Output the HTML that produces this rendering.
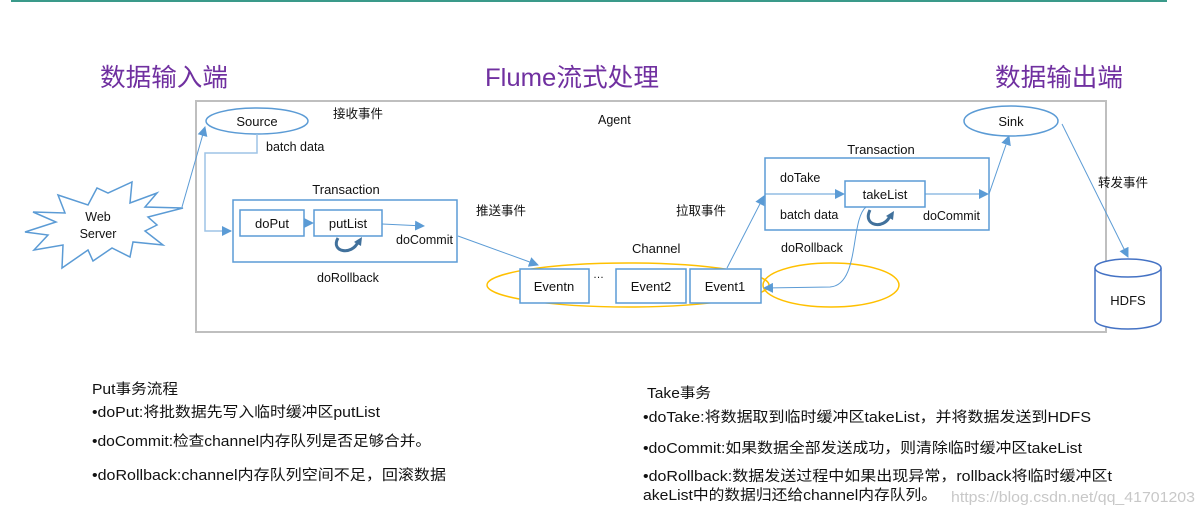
<!DOCTYPE html>
<html><head><meta charset="utf-8"><style>
html,body{margin:0;padding:0;background:#fff;}
svg{display:block}
text{font-family:"Liberation Sans","Noto Sans CJK SC",sans-serif;fill:#111;}
</style></head><body>
<svg width="1204" height="516" viewBox="0 0 1204 516" xmlns="http://www.w3.org/2000/svg">
<defs>
<marker id="a" markerWidth="10" markerHeight="10" refX="9" refY="5" orient="auto" markerUnits="userSpaceOnUse"><path d="M0,0 L10,5 L0,10 z" fill="#5b9bd5"/></marker>
</defs>
<line x1="11" y1="1" x2="1167" y2="1" stroke="#3a9a8a" stroke-width="2"/>
<g font-size="25">
<text x="100" y="86" style="fill:#7030a0" textLength="128" lengthAdjust="spacingAndGlyphs">数据输入端</text>
<text x="485" y="86" style="fill:#7030a0" textLength="174" lengthAdjust="spacingAndGlyphs">Flume流式处理</text>
<text x="995" y="86" style="fill:#7030a0" textLength="128" lengthAdjust="spacingAndGlyphs">数据输出端</text>
</g>
<rect x="196" y="101" width="910" height="231" fill="none" stroke="#bfbfbf" stroke-width="2"/>
<g font-size="12.5">
<text x="598" y="124">Agent</text>
<text x="333" y="118">接收事件</text>
<text x="266" y="151">batch data</text>
<text x="476" y="215">推送事件</text>
<text x="676" y="215">拉取事件</text>
<text x="1098" y="187">转发事件</text>
</g>
<ellipse cx="257" cy="121" rx="51" ry="13" fill="#fff" stroke="#5b9bd5" stroke-width="1.5"/>
<text x="257" y="126" font-size="13" text-anchor="middle">Source</text>
<polyline points="257,134 257,153 205,153 205,231 231,231" fill="none" stroke="#9dc3e6" stroke-width="1.5" marker-end="url(#a)"/>
<polygon points="58,195 88,205 97,188 108,193 132,182 130,203 157,193 145,207 183,208 148,217 157,225 145,231 163,245 133,242 130,257 112,248 93,261 88,250 62,268 63,245 34,250 48,235 25,232 56,222 33,212 65,213" fill="#fff" stroke="#5b9bd5" stroke-width="1.5"/>
<text x="98" y="221" font-size="12.5" text-anchor="middle">Web</text>
<text x="98" y="238" font-size="12.5" text-anchor="middle">Server</text>
<line x1="182" y1="207" x2="205" y2="127" stroke="#5b9bd5" stroke-width="1" marker-end="url(#a)"/>
<text x="346" y="194" font-size="13" text-anchor="middle">Transaction</text>
<rect x="233" y="200" width="224" height="62" fill="none" stroke="#5b9bd5" stroke-width="1.5"/>
<rect x="240" y="210" width="64" height="26" fill="none" stroke="#5b9bd5" stroke-width="1.5"/>
<text x="272" y="228" font-size="13" text-anchor="middle">doPut</text>
<rect x="314" y="210" width="68" height="26" fill="none" stroke="#5b9bd5" stroke-width="1.5"/>
<text x="348" y="228" font-size="13" text-anchor="middle">putList</text>
<line x1="304" y1="223" x2="313" y2="223" stroke="#5b9bd5" marker-end="url(#a)"/>
<line x1="382" y1="224" x2="424" y2="226" stroke="#5b9bd5" marker-end="url(#a)"/>
<text x="396" y="244" font-size="12.5">doCommit</text>
<path d="M338,238 C330,252 352,256 358,242" fill="none" stroke="#41719c" stroke-width="3"/>
<path d="M354,242 L362,237 L361,246 z" fill="#41719c"/>
<text x="317" y="282" font-size="12.5">doRollback</text>
<line x1="458" y1="236" x2="538" y2="265" stroke="#5b9bd5" marker-end="url(#a)"/>
<text x="632" y="253" font-size="13">Channel</text>
<ellipse cx="628" cy="285" rx="141" ry="22" fill="none" stroke="#ffc000" stroke-width="1.5"/>
<ellipse cx="831" cy="285" rx="68" ry="22" fill="none" stroke="#ffc000" stroke-width="1.5"/>
<rect x="520" y="269" width="69" height="34" fill="#fff" stroke="#5b9bd5" stroke-width="1.5"/>
<text x="554" y="291" font-size="13" text-anchor="middle">Eventn</text>
<text x="593" y="278" font-size="11">…</text>
<rect x="616" y="269" width="70" height="34" fill="#fff" stroke="#5b9bd5" stroke-width="1.5"/>
<text x="651" y="291" font-size="13" text-anchor="middle">Event2</text>
<rect x="690" y="269" width="71" height="34" fill="#fff" stroke="#5b9bd5" stroke-width="1.5"/>
<text x="725" y="291" font-size="13" text-anchor="middle">Event1</text>
<line x1="727" y1="268" x2="764" y2="196" stroke="#5b9bd5" marker-end="url(#a)"/>
<text x="881" y="154" font-size="13" text-anchor="middle">Transaction</text>
<rect x="765" y="158" width="224" height="72" fill="none" stroke="#5b9bd5" stroke-width="1.5"/>
<text x="780" y="182" font-size="12.5">doTake</text>
<text x="780" y="219" font-size="12.5">batch data</text>
<text x="923" y="220" font-size="12.5">doCommit</text>
<rect x="845" y="181" width="80" height="26" fill="#fff" stroke="#5b9bd5" stroke-width="1.5"/>
<text x="885" y="199" font-size="13" text-anchor="middle">takeList</text>
<line x1="765" y1="194" x2="844" y2="194" stroke="#5b9bd5" marker-end="url(#a)"/>
<line x1="925" y1="194" x2="988" y2="194" stroke="#5b9bd5" marker-end="url(#a)"/>
<path d="M870,210 C862,226 884,230 890,216" fill="none" stroke="#41719c" stroke-width="3"/>
<path d="M886,216 L894,211 L893,220 z" fill="#41719c"/>
<path d="M866,207 C850,220 860,285 830,287 L764,288" fill="none" stroke="#5b9bd5" marker-end="url(#a)"/>
<text x="781" y="252" font-size="12.5">doRollback</text>
<line x1="989" y1="194" x2="1009" y2="136" stroke="#5b9bd5" marker-end="url(#a)"/>
<ellipse cx="1011" cy="121" rx="47" ry="15" fill="#fff" stroke="#5b9bd5" stroke-width="1.5"/>
<text x="1011" y="126" font-size="13" text-anchor="middle">Sink</text>
<line x1="1062" y1="124" x2="1128" y2="257" stroke="#5b9bd5" marker-end="url(#a)"/>
<path d="M1095,268 L1095,320 A33,9 0 0 0 1161,320 L1161,268" fill="#fff" stroke="#4472c4" stroke-width="1.5"/>
<ellipse cx="1128" cy="268" rx="33" ry="9" fill="#fff" stroke="#4472c4" stroke-width="1.5"/>
<text x="1128" y="305" font-size="13" text-anchor="middle">HDFS</text>
<g font-size="14.5">
<text x="92" y="394" textLength="86" lengthAdjust="spacingAndGlyphs">Put事务流程</text>
<text x="92" y="417" textLength="288" lengthAdjust="spacingAndGlyphs">•doPut:将批数据先写入临时缓冲区putList</text>
<text x="92" y="446" textLength="339" lengthAdjust="spacingAndGlyphs">•doCommit:检查channel内存队列是否足够合并。</text>
<text x="92" y="480" textLength="354" lengthAdjust="spacingAndGlyphs">•doRollback:channel内存队列空间不足，回滚数据</text>
<text x="647" y="398" textLength="64" lengthAdjust="spacingAndGlyphs">Take事务</text>
<text x="643" y="422" textLength="448" lengthAdjust="spacingAndGlyphs">•doTake:将数据取到临时缓冲区takeList，并将数据发送到HDFS</text>
<text x="643" y="453" textLength="439" lengthAdjust="spacingAndGlyphs">•doCommit:如果数据全部发送成功，则清除临时缓冲区takeList</text>
<text x="643" y="481" textLength="469" lengthAdjust="spacingAndGlyphs">•doRollback:数据发送过程中如果出现异常，rollback将临时缓冲区t</text>
<text x="643" y="500" textLength="294" lengthAdjust="spacingAndGlyphs">akeList中的数据归还给channel内存队列。</text>
<text x="951" y="502" style="fill:#c8c8c8" font-size="15" textLength="244" lengthAdjust="spacingAndGlyphs">https://blog.csdn.net/qq_41701203</text>
</g>
</svg>
</body></html>
